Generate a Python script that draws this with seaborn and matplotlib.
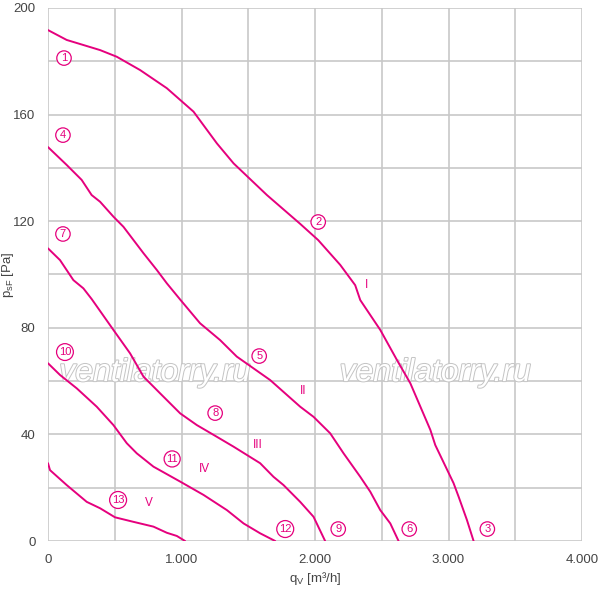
import numpy as np
import pandas as pd
import matplotlib
matplotlib.use("Agg")
import matplotlib.pyplot as plt
import matplotlib.patheffects as pe
from matplotlib.ticker import MultipleLocator, FuncFormatter
import seaborn as sns

# Kennlinien I..V (q in m3/h, p in Pa)
q_I = [0, 140, 390, 515, 690, 890, 1090, 1265, 1390, 1640, 1889, 2024, 2189, 2301, 2339,
       2489, 2614, 2714, 2864, 2901, 3038, 3076, 3138, 3188]
p_I = [191.7, 188, 184.2, 181.7, 176.7, 169.9, 161.1, 149.2, 141.7, 129.8, 119, 112.9, 103.6,
       96, 90.4, 79.2, 67.9, 59.2, 41.7, 36, 21.7, 16.6, 7.9, 0]

q_II = [0, 140, 252, 327, 390, 490, 565, 715, 815, 890, 990, 1139, 1289, 1414, 1539, 1664,
        1889, 1989, 2114, 2214, 2339, 2414, 2489, 2564, 2626]
p_II = [147.8, 141.1, 135.5, 129.8, 127.3, 121.7, 117.9, 108, 101.7, 96.7, 90.6, 81.7, 75.4,
        69.2, 64.8, 60.4, 50.4, 46.6, 40.4, 32.9, 24.1, 18.5, 11.6, 6.6, 0]

q_III = [0, 90, 190, 265, 327, 490, 615, 715, 840, 990, 1115, 1265, 1390, 1589, 1689, 1764,
         1889, 1989, 2076]
p_III = [109.8, 105.4, 97.9, 94.8, 90.8, 79.2, 70.4, 61.7, 55.4, 47.9, 43.5, 39.1, 35.4, 29.2,
         24.1, 21, 14.7, 9.1, 0]

q_IV = [0, 90, 215, 365, 490, 590, 665, 790, 990, 1165, 1340, 1465, 1589, 1702]
p_IV = [66.7, 62.3, 57.3, 50.4, 43.5, 36.7, 32.9, 27.9, 22.3, 17.3, 11.6, 6.6, 2.9, 0]

q_V = [0, 15, 140, 290, 390, 502, 640, 790, 890, 965, 1027]
p_V = [29.2, 26.6, 21, 14.7, 12.3, 8.9, 7.2, 5.4, 3.1, 1.9, 0]

# Betriebspunkte (Kreis-Nummern)
punkt_nr = ["1", "2", "3", "4", "5", "6", "7", "8", "9", "10", "11", "12", "13"]
punkt_q = [120, 2024, 3291, 112, 1582, 2706, 112, 1252, 2174, 127, 930, 1777, 525]
punkt_p = [181.2, 119.7, 4.5, 152.3, 69.4, 4.5, 115.2, 48, 4.5, 70.9, 30.8, 4.5, 15.4]

roem = ["I", "II", "III", "IV", "V"]
roem_q = [2384, 1912, 1574, 1169, 757]
roem_p = [96.1, 56.3, 36, 27, 14.3]

farbe = "#E5007D"
grau = "#c8c8c8"

kurven = {"I": (q_I, p_I), "II": (q_II, p_II), "III": (q_III, p_III),
          "IV": (q_IV, p_IV), "V": (q_V, p_V)}
zeilen = []
for name, (qs, ps) in kurven.items():
    for q, p in zip(qs, ps):
        zeilen.append({"kurve": name, "q": q, "p": p})
df = pd.DataFrame(zeilen)

sns.set_style("white")
plt.rcParams['font.family'] = ['Liberation Sans', 'DejaVu Sans']

fig = plt.figure(figsize=(6, 5.9), dpi=100)
ax = fig.add_axes([0.08, 0.083, 0.89, 0.9035])

sns.lineplot(data=df, x="q", y="p", hue="kurve", units="kurve", estimator=None, sort=False,
             palette={k: farbe for k in kurven}, linewidth=1.4, legend=False, ax=ax, zorder=3)

ax.set_xlim(0, 4000)
ax.set_ylim(0, 200)
ax.xaxis.set_major_locator(MultipleLocator(1000))
ax.xaxis.set_minor_locator(MultipleLocator(500))
ax.yaxis.set_major_locator(MultipleLocator(40))
ax.yaxis.set_minor_locator(MultipleLocator(20))
ax.xaxis.set_major_formatter(FuncFormatter(lambda v, pos: f"{int(v):,}".replace(",", ".")))
ax.grid(True, which="both", color=grau, linewidth=1.2, zorder=0)
ax.set_axisbelow(True)
for s in ax.spines.values():
    s.set_visible(False)
ax.tick_params(which="both", length=5, width=1.2, color=grau, labelsize=9.5,
               labelcolor="#444444", pad=4)
ax.tick_params(which="minor", length=0)

ax.set_xlabel("q$_\\mathregular{V}$ [m³/h]", fontsize=9.5, color="#444444", labelpad=4)
ax.set_ylabel("p$_\\mathregular{sF}$ [Pa]", fontsize=9.5, color="#444444", labelpad=2)
ax.xaxis.set_label_coords(0.5, -0.055)
ax.yaxis.set_label_coords(-0.06, 0.5)

# Wasserzeichen
for xw in [0.2, 0.725]:
    ax.text(xw, 0.315, "ventilatorry.ru", transform=ax.transAxes, fontsize=23, style="italic",
            color="white", ha="center", va="center", zorder=2,
            path_effects=[pe.withStroke(linewidth=1.4, foreground="#c4c4c4")])

for nr, q, p in zip(punkt_nr, punkt_q, punkt_p):
    ax.text(q, p, nr, fontsize=8, color=farbe, ha="center", va="center", zorder=4,
            bbox=dict(boxstyle="circle,pad=0.2", fc="white", ec=farbe, lw=0.9))

for r, q, p in zip(roem, roem_q, roem_p):
    ax.text(q, p, r, fontsize=8.5, color=farbe, ha="center", va="center", zorder=4)

fig.savefig("out.png", dpi=100, facecolor="white")
